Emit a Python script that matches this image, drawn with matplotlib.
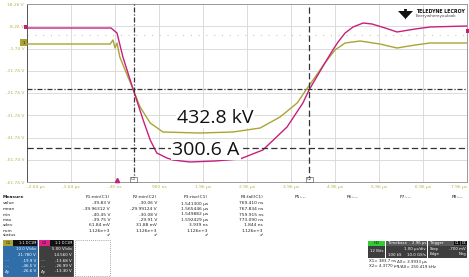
import matplotlib
matplotlib.use("Agg")
import matplotlib.pyplot as plt
from matplotlib.patches import Rectangle, Polygon

W, H = 469, 277

# traces: time in µs, level on the C1 scale in V
c1_t = [-2.04, -0.15, -0.085, -0.04, 0.005, 0.07, 0.255, 0.37, 0.53, 0.76, 1.05, 1.89,
        2.64, 3.26, 3.71, 4.10, 4.30, 4.51, 4.73, 4.96, 5.19, 5.53, 5.98, 6.37, 6.78, 7.12, 7.96]
c1_v = [0.28, 0.28, 2.08, -1.52, 0.73, -5.56, -14.55, -19.94, -28.03, -35.22, -39.27, -39.72,
        -39.27, -37.47, -32.53, -26.23, -20.39, -14.55, -8.26, -2.41, 0.73, 1.63, 0.28, -1.52,
        -0.17, 0.73, 0.73]
c2_t = [-2.04, -0.13, 0.005, 0.14, 0.37, 0.60, 0.76, 0.91, 1.14, 1.28, 1.66, 2.23, 2.80,
        3.32, 3.87, 4.23, 4.37, 4.53, 4.73, 4.91, 5.03, 5.19, 5.37, 5.60, 5.80, 6.10, 6.37,
        6.78, 7.12, 7.96]
c2_v = [7.47, 7.47, 5.23, -5.56, -19.94, -33.87, -42.86, -48.71, -50.95, -51.85, -52.75,
        -52.30, -51.40, -47.36, -37.02, -26.23, -20.39, -15.0, -8.26, -2.41, 1.18, 5.23, 7.92,
        9.72, 9.27, 7.47, 5.68, 7.02, 7.92, 8.37]

x_ticks = [-2.04 + i for i in range(11)]
x_labels = ["-2.04 µs", "-1.04 µs", "-40 ns", "960 ns", "1.96 µs", "2.96 µs", "3.96 µs",
            "4.96 µs", "5.96 µs", "6.96 µs", "7.96 µs"]
y_ticks = [18.26 - 10 * i for i in range(9)]
y_labels = ["18.26 V", "8.26 V", "-1.74 V", "-11.74 V", "-21.74 V", "-31.74 V",
            "-41.74 V", "-51.74 V", "-61.74 V"]

cursor_x = [0.3837, 4.3770]
cursor_y = [-19.9, -46.5]

measure_rows = ["value", "mean", "min", "max", "sdev", "num", "status"]
p1 = ["-39.83 V", "-39.96312 V", "-40.45 V", "-39.75 V", "61.84 mV", "1.126e+3", "\u2714"]
p2 = ["-30.06 V", "-29.99124 V", "-30.08 V", "-29.91 V", "31.88 mV", "1.126e+3", "\u2714"]
p3 = ["1.541300 µs", "1.565446 µs", "1.549882 µs", "1.592429 µs", "3.939 ns", "1.126e+3", "\u2714"]
p4 = ["769.410 ns", "767.834 ns", "759.915 ns", "773.090 ns", "1.844 ns", "1.126e+3", "\u2714"]

OLIVE = "#aaa434"
MAGENTA = "#c81f7e"
TICK = "#b9b04a"

fig = plt.figure(figsize=(W / 100, H / 100), dpi=100)
fig.patch.set_facecolor("white")


def fx(px):
    return px / W


def fy(py):
    return 1 - py / H


def txt(px, py, s, ha="left", size=3.2, color="#222222", **kw):
    fig.text(fx(px), fy(py), s, ha=ha, va="center", fontsize=size, color=color, **kw)


def box(x0, y0, x1, y1, fc, ec="none", lw=0.5, ls="-"):
    fig.add_artist(Rectangle((fx(x0), fy(y1)), fx(x1) - fx(x0), fy(y0) - fy(y1),
                             facecolor=fc, edgecolor=ec, lw=lw, ls=ls,
                             transform=fig.transFigure))


ax = fig.add_axes([fx(27), fy(182), fx(467) - fx(27), fy(4) - fy(182)])
ax.set_xlim(-2.04, 7.96)
ax.set_ylim(-61.74, 18.26)
ax.set_xticks(x_ticks)
ax.set_xticklabels(x_labels, fontsize=3.2, color=TICK)
ax.set_yticks(y_ticks)
ax.set_yticklabels(y_labels, fontsize=3.2, color=TICK)
lbls = ax.get_xticklabels()
lbls[0].set_ha("left")
lbls[-1].set_ha("right")
ax.tick_params(length=0, pad=2)
ax.grid(True, color="#d6d6d6", lw=0.6)
for s in ax.spines.values():
    s.set_color("#9a9a9a")
    s.set_linewidth(0.7)
ax.spines["left"].set_color("#555555")
ax.axhline(4.33, color="#c8c8c8", lw=0.8, ls=(0, (1, 6)))

ax.plot(c1_t, c1_v, color=OLIVE, lw=1.0, zorder=3)
ax.plot(c2_t, c2_v, color=MAGENTA, lw=1.0, zorder=3)

ax.axvline(cursor_x[0], color="#333333", lw=0.9, ls=(0, (4, 1.5, 1, 1.5)), zorder=4)
ax.axhline(cursor_y[0], color="#333333", lw=0.9, ls=(0, (4, 1.5, 1, 1.5)), zorder=4)
ax.axvline(cursor_x[1], color="#333333", lw=0.9, ls=(0, (5, 2.5)), zorder=4)
ax.axhline(cursor_y[1], color="#333333", lw=0.9, ls=(0, (5, 2.5)), zorder=4)
for cx, name in zip(cursor_x, ["C1", "C2"]):
    ax.text(cx, -60.5, name, fontsize=2.8, ha="center", va="center", color="#222222",
            bbox=dict(boxstyle="square,pad=0.15", fc="white", ec="#444444", lw=0.4), zorder=5)
ax.plot([0], [-61.0], marker="^", ms=3, color=MAGENTA, clip_on=False, zorder=6)

fig.text(fx(215), fy(118), "432.8 kV", ha="center", va="center", fontsize=14,
         family="Open Sans", color="#111111",
         bbox=dict(boxstyle="square,pad=0.05", fc="white", ec="none"), zorder=10)
fig.text(fx(206), fy(150), "300.6 A", ha="center", va="center", fontsize=14,
         family="Open Sans", color="#111111",
         bbox=dict(boxstyle="square,pad=0.05", fc="white", ec="none"), zorder=10)

# channel offset markers on the left / right edge
box(20, 39, 27, 46, OLIVE)
txt(23.5, 42.5, "1", ha="center", size=3, color="#222222")
box(24, 25, 27, 29, MAGENTA)
box(466, 29.5, 469, 32.5, MAGENTA)

# Teledyne LeCroy logo
fig.add_artist(Polygon([(fx(398), fy(11)), (fx(413), fy(11)), (fx(405.5), fy(19))],
                       closed=True, fc="#111111", ec="none", transform=fig.transFigure))
fig.add_artist(Polygon([(fx(404), fy(9)), (fx(407), fy(9)), (fx(405.5), fy(20))],
                       closed=True, fc="#111111", ec="none", transform=fig.transFigure))
txt(416, 11.5, "TELEDYNE LECROY", size=3.4, color="#111111", weight="bold")
txt(416, 16.5, "Everywhereyoulook", size=3.0, color="#444444")

# measurement table
row_y = [203.5, 209, 214.5, 220, 225, 230.5, 235.5]
txt(3, 197.5, "Measure", weight="bold")
for name, yy in zip(measure_rows, row_y):
    txt(3, yy, name)
for head, col, xr in [("P1:min(C1)", p1, 110), ("P2:min(C2)", p2, 157),
                      ("P3:rise(C1)", p3, 208), ("P4:fall(C1)", p4, 263)]:
    txt(xr, 197.5, head, ha="right")
    for v, yy in zip(col, row_y):
        txt(xr, yy, v, ha="right")
for head, xl in [("P5:---", 295), ("P6:---", 347), ("P7:---", 400), ("P8:---", 452)]:
    txt(xl, 197.5, head)

# channel descriptor boxes
box(3, 240, 37, 276, "#2f6ea8", ec="#1c4f80")
box(3, 240, 37, 246, "#111111")
box(3, 240, 13, 246, OLIVE)
txt(8, 243, "C1", ha="center", size=2.8, color="#111111")
txt(36, 243, "1:1 DC1M", ha="right", size=2.5, color="white")
for s, yy in zip(["10.0 V/div", "21.780 V", "-19.9 V", "-46.5 V", "-26.6 V"],
                 [249.5, 255, 260.5, 266, 271.5]):
    txt(36, yy, s, ha="right", size=2.9, color="white")
txt(5, 260.5, "----", size=2.6, color="#cccccc")
txt(5, 266, "----", size=2.6, color="#cccccc")
txt(5, 271.5, "\u0394y", size=2.9, color="white")

box(39, 240, 73, 276, "#3e3e3e", ec="#2a2a2a")
box(39, 240, 73, 246, "#111111")
box(39, 240, 50, 246, "#e0218a")
txt(44.5, 243, "C2", ha="center", size=2.8, color="#111111")
txt(72, 243, "1:1 DC1M", ha="right", size=2.5, color="white")
for s, yy in zip(["5.00 V/div", "14.560 V", "-13.68 V", "-26.99 V", "-13.30 V"],
                 [249.5, 255, 260.5, 266, 271.5]):
    txt(72, yy, s, ha="right", size=2.9, color="white")
txt(41, 260.5, "----", size=2.6, color="#cccccc")
txt(41, 266, "----", size=2.6, color="#cccccc")
txt(41, 271.5, "\u0394y", size=2.9, color="white")

box(75, 240, 110, 276, "none", ec="#888888", lw=0.6, ls=(0, (1, 1.5)))

# timebase / trigger boxes
box(368, 241, 385, 258, "#3e3e3e")
box(368, 241, 385, 245.5, "#33cc33")
txt(376.5, 243.2, "HD", ha="center", size=2.8, color="#111111")
txt(376.5, 251.5, "12 Bits", ha="center", size=2.8, color="white")

box(386, 241, 427, 258, "#3e3e3e")
box(386, 241, 427, 245.5, "#5a5a5a")
txt(388, 243.2, "Timebase", size=2.8, color="white")
txt(426, 243.2, "2.96 µs", ha="right", size=2.8, color="white")
txt(426, 249, "1.00 µs/div", ha="right", size=2.8, color="white")
txt(388, 254.5, "100 kS", size=2.8, color="white")
txt(426, 254.5, "10.0 GS/s", ha="right", size=2.8, color="white")

box(428, 241, 467, 258, "#3e3e3e")
box(428, 241, 467, 245.5, "#5a5a5a")
txt(430, 243.2, "Trigger", size=2.8, color="white")
box(454, 241.5, 460, 245, "#111111")
box(461, 241.5, 467, 245, "#111111")
txt(457, 243.2, "C1", ha="center", size=2.4, color="white")
txt(464, 243.2, "DC", ha="center", size=2.4, color="white")
txt(430, 249, "Stop", size=2.8, color="white")
txt(466, 249, "-700 mV", ha="right", size=2.8, color="white")
txt(430, 254.5, "Edge", size=2.8, color="white")
txt(466, 254.5, "Neg", ha="right", size=2.8, color="white")

txt(369, 261.5, "X1= 383.7 ns", size=2.9)
txt(397, 261.5, "\u0394X= 3.9933 µs", size=2.9)
txt(369, 266.5, "X2= 4.3770 µs", size=2.9)
txt(397, 266.5, "1/\u0394X= 250.419 kHz", size=2.9)

fig.savefig("out.png", dpi=100)
